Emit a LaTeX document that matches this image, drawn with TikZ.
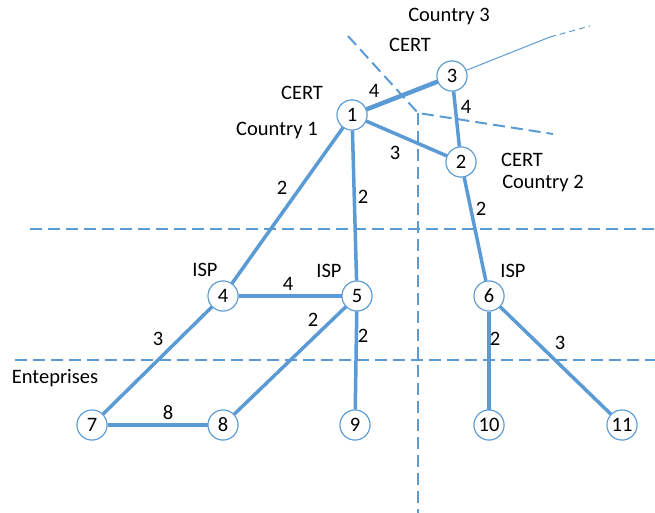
\documentclass[tikz,border=0pt]{standalone}
\usepackage{fontspec}
\setmainfont{Carlito}
\definecolor{netblue}{HTML}{5B9BD5}
\begin{document}
\begin{tikzpicture}[x=1pt,y=-1pt,
  router/.style={circle,draw=netblue,line width=1pt,fill=white,minimum size=30pt,inner sep=0pt,font=\fontsize{20.5}{24}\selectfont},
  link/.style={draw=netblue,line width=3.5pt},
  border/.style={draw=netblue,line width=2pt,dash pattern=on 12pt off 6pt},
  lbl/.style={font=\fontsize{20.5}{24}\selectfont,inner sep=0pt}]
\useasboundingbox (0,0) rectangle (655,513);

% region borders
\coordinate (h1a) at (30,229);  \coordinate (h1b) at (655,229);
\coordinate (h2a) at (15,360);  \coordinate (h2b) at (655,360);
\coordinate (vc)  at (418,113); \coordinate (vb)  at (418,513);
\coordinate (dnw) at (348,36);  \coordinate (de)  at (553,134);
\draw[border] (h1a) -- (h1b);
\draw[border] (h2a) -- (h2b);
\draw[border] (vc) -- (vb);
\draw[border] (dnw) -- (vc) -- (de);

% routers
\node[router] (n1) at (352,115) {1};
\node[router] (n3) at (452,76) {3};
\node[router] (n2) at (461,162) {2};
\node[router] (n4) at (223,296) {4};
\node[router] (n5) at (357,296) {5};
\node[router] (n6) at (489,296) {6};
\node[router] (n7) at (92,425) {7};
\node[router] (n8) at (223,425) {8};
\node[router] (n9) at (355,425) {9};
\node[router] (n10) at (489,425) {10};
\node[router] (n11) at (622,425) {11};

% outgoing link from CERT 3
\coordinate (ext) at (550,37);
\coordinate (extend) at (590,26);
\draw[draw=netblue,line width=1pt] (n3) -- (ext);
\draw[draw=netblue,line width=1pt,dash pattern=on 6pt off 4pt] (ext) -- (extend);

% links
\draw[link,line width=4.5pt] (n1) -- (n3);
\draw[link] (n1) -- (n2);
\draw[link] (n3) -- (n2);
\draw[link] (n1) -- (n4);
\draw[link] (n1) -- (n5);
\draw[link] (n2) -- (n6);
\draw[link] (n4) -- (n5);
\draw[link] (n4) -- (n7);
\draw[link] (n5) -- (n8);
\draw[link] (n5) -- (n9);
\draw[link] (n6) -- (n10);
\draw[link] (n6) -- (n11);
\draw[link] (n7) -- (n8);

% redraw routers above links
\foreach \n/\t in {n1/1,n3/3,n2/2,n4/4,n5/5,n6/6,n7/7,n8/8,n9/9,n10/10,n11/11}
  \node[router] at (\n) {\t};

% link weights
\node[lbl] (w13) at (374,91) {4};
\node[lbl] (w32) at (466,107) {4};
\node[lbl] (w12) at (395,153) {3};
\node[lbl] (w14) at (282,188) {2};
\node[lbl] (w15) at (363,197) {2};
\node[lbl] (w26) at (481,209) {2};
\node[lbl] (w45) at (288,284) {4};
\node[lbl] (w47) at (158,339) {3};
\node[lbl] (w58) at (313,320) {2};
\node[lbl] (w59) at (363,336) {2};
\node[lbl] (w610) at (495,339) {2};
\node[lbl] (w611) at (560,343) {3};
\node[lbl] (w78) at (168,413) {8};

% region labels
\node[lbl] (c3) at (449,17) {Country 3};
\node[lbl] (cert3) at (410,45) {CERT};
\node[lbl] (cert1) at (302,93) {CERT};
\node[lbl] (c1) at (277,131) {Country 1};
\node[lbl] (cert2) at (522,160) {CERT};
\node[lbl] (c2) at (543,183) {Country 2};
\node[lbl] (isp4) at (205,270) {ISP};
\node[lbl] (isp5) at (329,271) {ISP};
\node[lbl] (isp6) at (513,271) {ISP};
\node[lbl] (ent) at (55,378) {Enteprises};
\end{tikzpicture}
\end{document}
